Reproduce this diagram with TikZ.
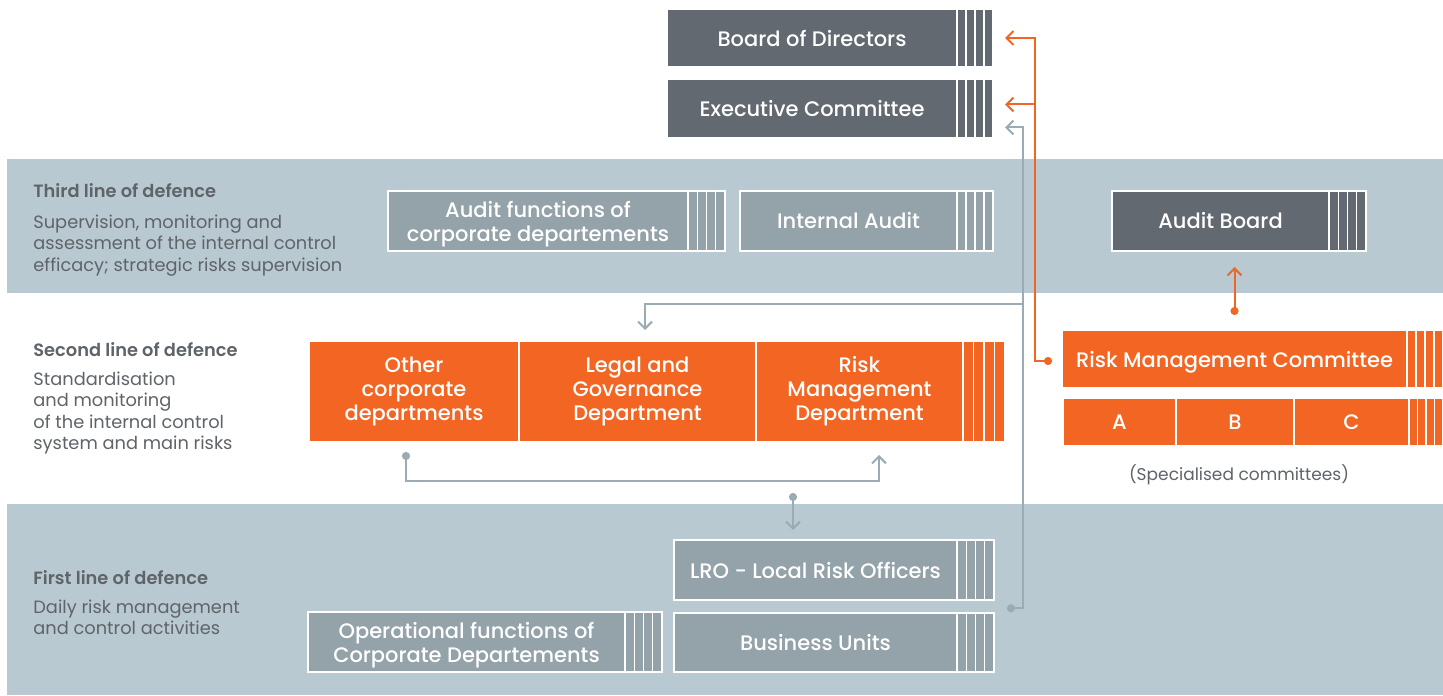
\documentclass[tikz,border=0pt]{standalone}
\usepackage{fontspec}
\setmainfont{Poppins}
\newfontfamily\medfont{Poppins Medium}
\newfontfamily\semifont{Poppins SemiBold}
\usetikzlibrary{arrows.meta,calc}
\definecolor{cband}{HTML}{B8C9D1}
\definecolor{cdark}{HTML}{626970}
\definecolor{cmid}{HTML}{94A2A9}
\definecolor{corange}{HTML}{F26522}
\definecolor{cconn}{HTML}{9AABB3}
\definecolor{ctxt}{HTML}{5F6469}
\tikzset{
  boxbase/.style={rectangle, draw=white, line width=0.6pt, inner sep=0pt, outer sep=0pt, text=white, align=center, font=\medfont\fontsize{10.5}{12}\selectfont},
  darkbox/.style={boxbase, fill=cdark},
  midbox/.style={boxbase, fill=cmid},
  orbox/.style={boxbase, fill=corange},
  nodepth/.style={text depth=0pt},
  >={Straight Barb[length=3.5pt,width=7pt]},
  gline/.style={line width=1pt, draw=cconn},
  oline/.style={line width=1pt, draw=corange},
  dotarrow/.style={{Circle[length=4pt]}->},
  headtext/.style={anchor=base west, inner sep=0pt, text=ctxt, font=\semifont\fontsize{8.9}{10.75}\selectfont},
  bodytext/.style={anchor=north west, inner sep=0pt, align=left, text=ctxt, font=\fontsize{8.9}{10.75}\selectfont},
  notetext/.style={inner sep=0pt, text=ctxt, font=\fontsize{8.5}{10.75}\selectfont},
}
\newcommand\mkbox[7]{\node[#2, minimum width={(#5-#3)*0.5pt}, minimum height={(#6-#4)*0.5pt}] (#1) at ({(#3+#5)/2},{(#4+#6)/2}) {#7};}
\newcommand\mkstripes[3]{%
  \foreach \i in {0,1,2,3}{\draw[draw=white, line width=0.6pt, fill=#2] ($(#1.north east)+(\i*#3,0)$) rectangle ($(#1.south east)+(\i*#3+#3,0)$);}
  \coordinate (#1-r) at ($(#1.east)+(4*#3,0)$);}
\begin{document}
\begin{tikzpicture}[x=0.5pt,y=-0.5pt]
\fill[white] (0,0) rectangle (1443,695);
\useasboundingbox (0,0) rectangle (1443,695);
% bands
\fill[cband] (7,159) rectangle (1443,293);
\fill[cband] (7,504) rectangle (1443,695);
% left texts
\node[headtext] (h3) at (33,198) {Third line of defence};
\node[bodytext] (t3) at (33,214.5) {Supervision, monitoring and\\assessment of the internal control\\efficacy; strategic risks supervision};
\node[headtext] (h2) at (33,356) {Second line of defence};
\node[bodytext] (t2) at (33,371.5) {Standardisation\\and monitoring\\of the internal control\\system and main risks};
\node[headtext] (h1) at (33,584) {First line of defence};
\node[bodytext] (t1) at (33,599.5) {Daily risk management\\and control activities};
% boxes
\mkbox{bod}{darkbox}{667}{9}{957}{67}{Board of Directors}\mkstripes{bod}{cdark}{9}
\mkbox{exc}{darkbox}{667}{79}{957}{138}{Executive Committee}\mkstripes{exc}{cdark}{9}
\mkbox{afc}{midbox,nodepth}{388}{191}{688}{251}{Audit functions of\\corporate departements}\mkstripes{afc}{cmid}{9.25}
\mkbox{ia}{midbox}{740}{191}{957}{251}{Internal Audit}\mkstripes{ia}{cmid}{9}
\mkbox{ab}{darkbox}{1112}{191}{1329}{251}{Audit Board}\mkstripes{ab}{cdark}{9.25}
\mkbox{oth}{orbox}{309}{341}{519}{442}{Other\\corporate\\departments}
\mkbox{leg}{orbox}{519}{341}{756}{442}{Legal and\\Governance\\Department}
\mkbox{rsk}{orbox}{756}{341}{963}{442}{Risk\\Management\\Department}\mkstripes{rsk}{corange}{10.5}
\mkbox{rmc}{orbox,nodepth}{1062}{330}{1407}{388}{Risk Management Committee}\mkstripes{rmc}{corange}{9}
\mkbox{ca}{orbox}{1063}{398}{1176}{446}{A}
\mkbox{cb}{orbox}{1176}{398}{1294}{446}{B}
\mkbox{cc}{orbox}{1294}{398}{1409}{446}{C}\mkstripes{cc}{corange}{8.5}
\mkbox{lro}{midbox}{674}{540}{957}{600}{LRO - Local Risk Officers}\mkstripes{lro}{cmid}{9.25}
\mkbox{bu}{midbox}{674}{613}{957}{672}{Business Units}\mkstripes{bu}{cmid}{9.25}
\mkbox{opf}{midbox,nodepth}{308}{612}{625}{672}{Operational functions of\\Corporate Departements}\mkstripes{opf}{cmid}{9.25}
\node[notetext] (spc) at (1239,475) {(Specialised committees)};
% orange connectors
\coordinate (od) at ($(rmc.west)+(-10,2)$);
\coordinate (bodin) at ($(bod-r)+(12,0)$);
\coordinate (excin) at ($(exc-r)+(12,-4)$);
\draw[oline, dotarrow] (od) -- ++(-17,0) coordinate (ov) |- (bodin);
\draw[oline, ->] (ov |- excin) -- (excin);
\draw[oline, dotarrow] ($(rmc.north)+(0,-15)$) -- ($(rmc.north |- ab.south)+(0,16)$);
% gray connectors
\coordinate (gd) at ($($(lro-r)!0.5!(bu-r)$)+(13,2)$);
\coordinate (excg) at ($(exc-r)+(12,19)$);
\draw[gline, dotarrow] (gd) -- ++(16,0) coordinate (gv) |- (excg);
\coordinate (legin) at ($(leg.north)+(7.5,-11)$);
\coordinate (gh) at ($(gv |- leg.north)+(0,-37)$);
\draw[gline, ->] (gh) -| (legin);
\coordinate (b1) at ($(oth.south)+(-8,10)$);
\coordinate (b2) at ($(rsk.south)+(19.5,13)$);
\draw[gline, dotarrow] (b1) -- ++(0,29) -| (b2);
\coordinate (l1) at ($(lro.north)+(-22.5,-47)$);
\coordinate (l2) at ($(lro.north)+(-22.5,-10)$);
\draw[gline, dotarrow] (l1) -- (l2);
\end{tikzpicture}
\end{document}
